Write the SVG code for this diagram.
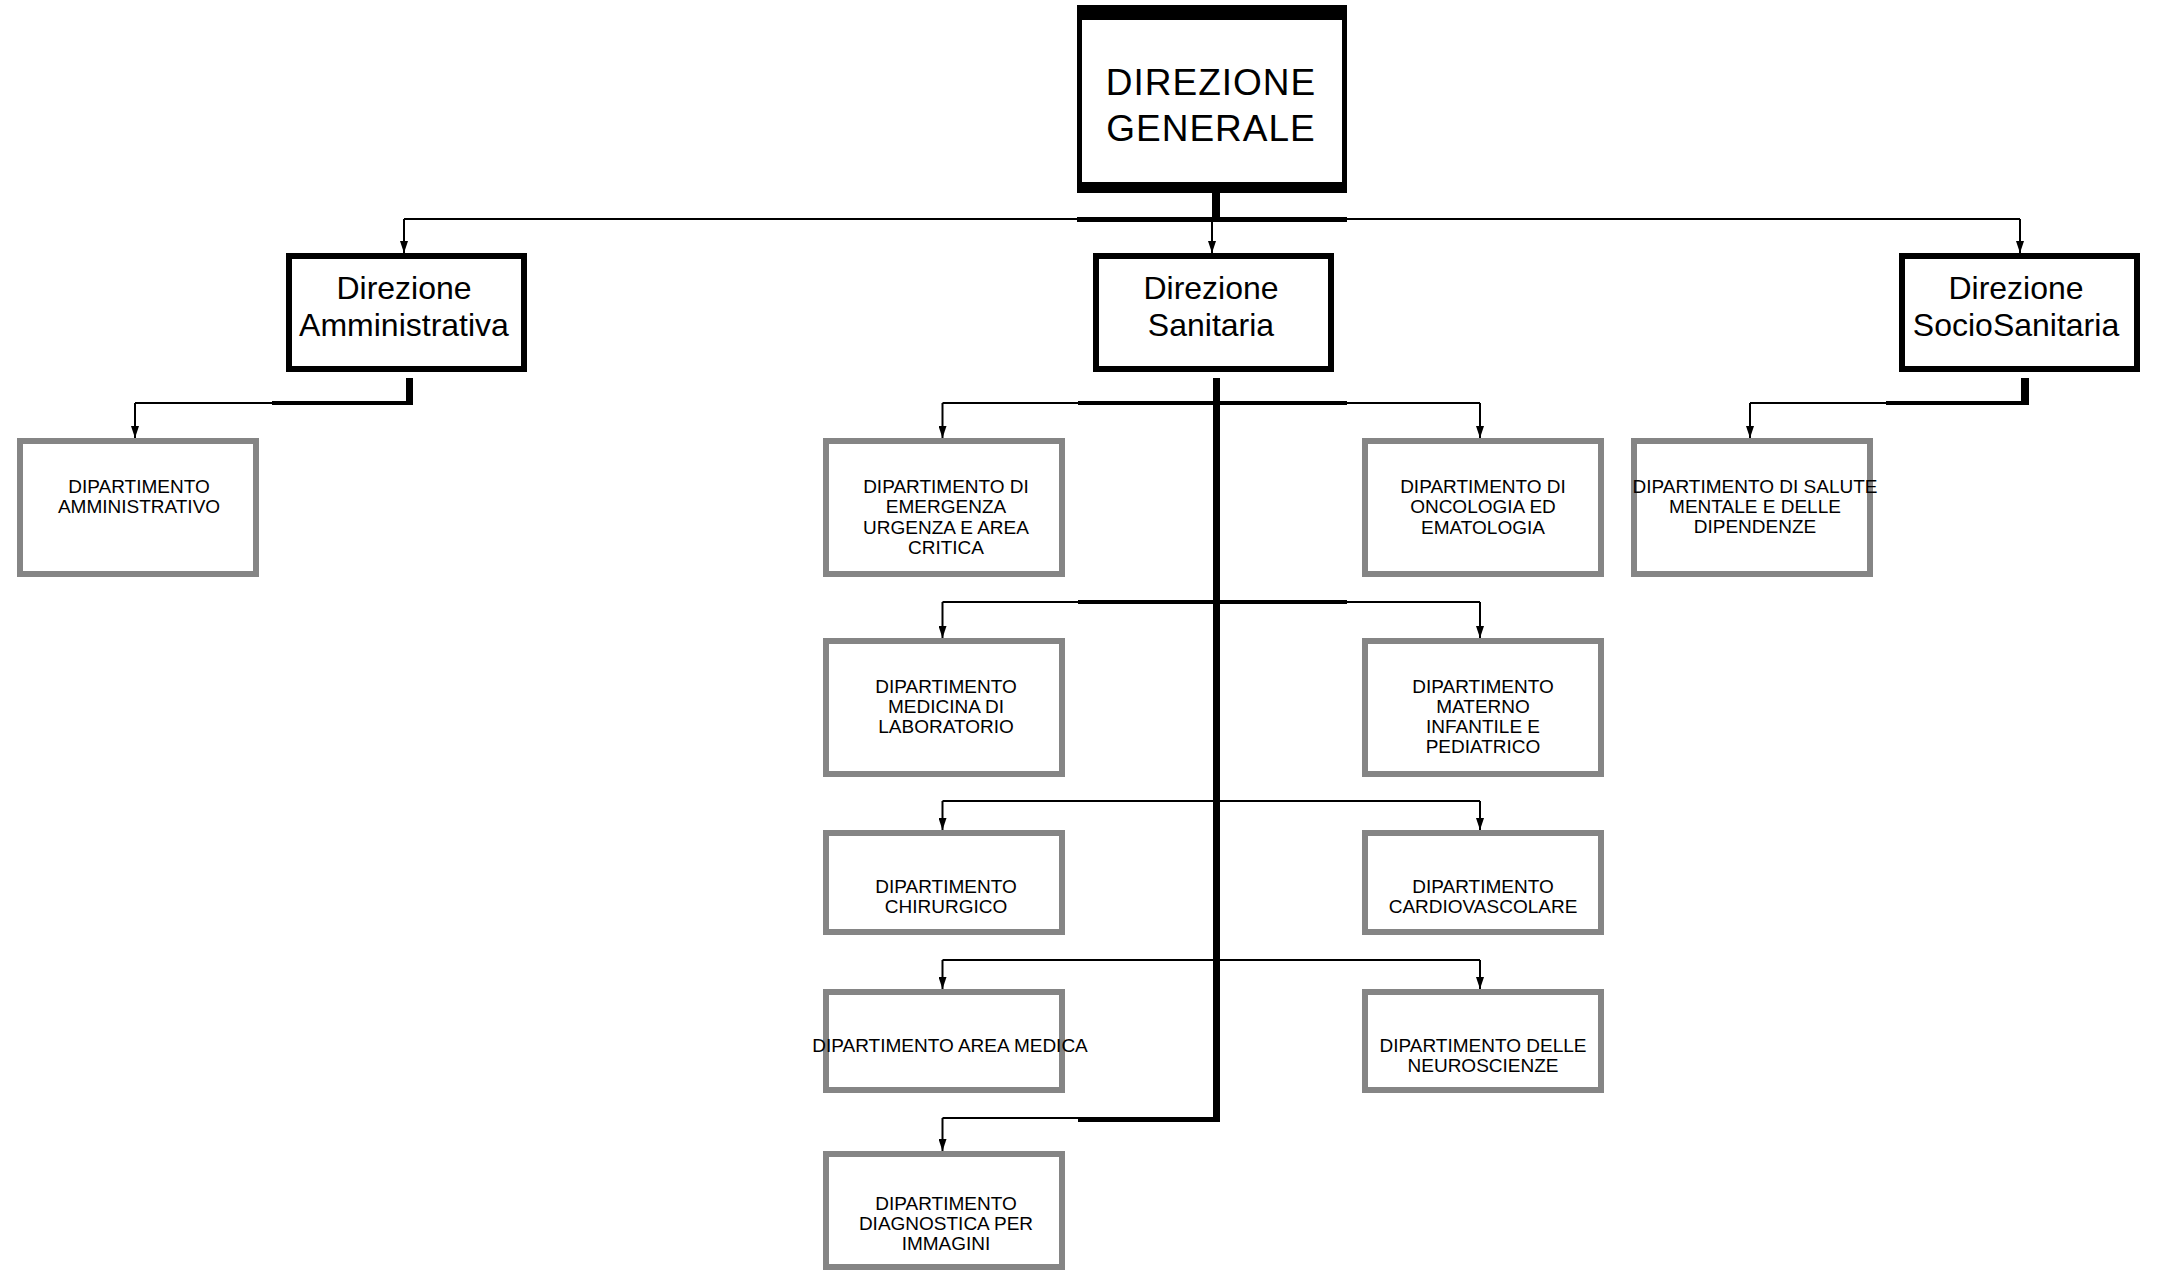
<svg xmlns="http://www.w3.org/2000/svg" width="2157" height="1271" viewBox="0 0 2157 1271">
<defs>
<style>
.l1box{fill:#fff;stroke:#000;stroke-width:5}
.l2box{fill:#fff;stroke:#000;stroke-width:6}
.l3box{fill:#fff;stroke:#858585;stroke-width:6}
.t1{font-family:"Liberation Sans",Arial,sans-serif;font-size:37px;letter-spacing:1px;text-anchor:middle;fill:#000}
.t2{font-family:"Liberation Sans",Arial,sans-serif;font-size:32px;text-anchor:middle;fill:#000}
.t3{font-family:"Liberation Sans",Arial,sans-serif;font-size:19px;text-anchor:middle;fill:#000}
.thin{fill:none;stroke:#000;stroke-width:2}
.arrow{fill:none;stroke:#000;stroke-width:2;marker-end:url(#ah)}
.thick{fill:#000}
</style>
<marker id="ah" viewBox="0 0 12 8" refX="12" refY="4" markerWidth="12" markerHeight="8" markerUnits="userSpaceOnUse" orient="auto"><path d="M0,0 L12,4 L0,8 z" fill="#000"/></marker>
</defs>
<rect width="2157" height="1271" fill="#fff"/>

<g id="connectors">
  <!-- level 1 -->
  <rect class="thick" x="1212" y="193" width="8" height="26"/>
  <path class="thin" d="M404,219 H2020"/>
  <rect class="thick" x="1077" y="217" width="270" height="5"/>
  <path class="arrow" d="M404,219 V253"/>
  <path class="arrow" d="M1212,219 V253"/>
  <path class="arrow" d="M2020,219 V253"/>
  <!-- Amministrativa -->
  <rect class="thick" x="406" y="378" width="7" height="27"/>
  <path class="thin" d="M135,403 H413"/>
  <rect class="thick" x="272" y="401" width="141" height="4"/>
  <path class="arrow" d="M135,403 V438"/>
  <!-- SocioSanitaria -->
  <rect class="thick" x="2021" y="378" width="8" height="27"/>
  <path class="thin" d="M1750,403 H2029"/>
  <rect class="thick" x="1886" y="401" width="143" height="4"/>
  <path class="arrow" d="M1750,403 V438"/>
  <!-- Sanitaria -->
  <rect class="thick" x="1213" y="378" width="7" height="744"/>
  <path class="thin" d="M942.5,403 H1480"/>
  <rect class="thick" x="1078" y="401" width="269" height="4"/>
  <path class="arrow" d="M942.5,403 V438"/>
  <path class="arrow" d="M1480,403 V438"/>
  <path class="thin" d="M942.5,602 H1480"/>
  <rect class="thick" x="1078" y="600" width="269" height="4"/>
  <path class="arrow" d="M942.5,602 V638"/>
  <path class="arrow" d="M1480,602 V638"/>
  <path class="thin" d="M942.5,801 H1480"/>
  <path class="arrow" d="M942.5,801 V830"/>
  <path class="arrow" d="M1480,801 V830"/>
  <path class="thin" d="M942.5,960 H1480"/>
  <path class="arrow" d="M942.5,960 V989"/>
  <path class="arrow" d="M1480,960 V989"/>
  <path class="thin" d="M942.5,1118 H1217"/>
  <rect class="thick" x="1078" y="1117" width="142" height="5"/>
  <path class="arrow" d="M942.5,1118 V1151"/>
</g>

<g id="direzione-generale">
  <rect class="l1box" x="1079.5" y="7.5" width="265" height="183"/>
  <rect class="thick" x="1077" y="5" width="270" height="15"/>
  <rect class="thick" x="1077" y="182" width="270" height="11"/>
  <text class="t1" x="1211" y="95">DIREZIONE</text>
  <text class="t1" x="1211" y="141">GENERALE</text>
</g>

<g id="direzione-amministrativa">
  <rect class="l2box" x="289" y="256" width="235" height="113"/>
  <text class="t2" x="404" y="299">Direzione</text>
  <text class="t2" x="404" y="336">Amministrativa</text>
</g>
<g id="direzione-sanitaria">
  <rect class="l2box" x="1096" y="256" width="235" height="113"/>
  <text class="t2" x="1211" y="299">Direzione</text>
  <text class="t2" x="1211" y="336">Sanitaria</text>
</g>
<g id="direzione-sociosanitaria">
  <rect class="l2box" x="1902" y="256" width="235" height="113"/>
  <text class="t2" x="2016" y="299">Direzione</text>
  <text class="t2" x="2016" y="336">SocioSanitaria</text>
</g>

<g id="dip-amministrativo">
  <rect class="l3box" x="20" y="441" width="236" height="133"/>
  <text class="t3" x="139" y="493">DIPARTIMENTO</text>
  <text class="t3" x="139" y="513">AMMINISTRATIVO</text>
</g>
<g id="dip-emergenza">
  <rect class="l3box" x="826" y="441" width="236" height="133"/>
  <text class="t3" x="946" y="493">DIPARTIMENTO DI</text>
  <text class="t3" x="946" y="513">EMERGENZA</text>
  <text class="t3" x="946" y="534">URGENZA E AREA</text>
  <text class="t3" x="946" y="554">CRITICA</text>
</g>
<g id="dip-oncologia">
  <rect class="l3box" x="1365" y="441" width="236" height="133"/>
  <text class="t3" x="1483" y="493">DIPARTIMENTO DI</text>
  <text class="t3" x="1483" y="513">ONCOLOGIA ED</text>
  <text class="t3" x="1483" y="534">EMATOLOGIA</text>
</g>
<g id="dip-salute-mentale">
  <rect class="l3box" x="1634" y="441" width="236" height="133"/>
  <text class="t3" x="1755" y="493">DIPARTIMENTO DI SALUTE</text>
  <text class="t3" x="1755" y="513">MENTALE E DELLE</text>
  <text class="t3" x="1755" y="533">DIPENDENZE</text>
</g>
<g id="dip-laboratorio">
  <rect class="l3box" x="826" y="641" width="236" height="133"/>
  <text class="t3" x="946" y="693">DIPARTIMENTO</text>
  <text class="t3" x="946" y="713">MEDICINA DI</text>
  <text class="t3" x="946" y="733">LABORATORIO</text>
</g>
<g id="dip-materno-infantile">
  <rect class="l3box" x="1365" y="641" width="236" height="133"/>
  <text class="t3" x="1483" y="693">DIPARTIMENTO</text>
  <text class="t3" x="1483" y="713">MATERNO</text>
  <text class="t3" x="1483" y="733">INFANTILE E</text>
  <text class="t3" x="1483" y="753">PEDIATRICO</text>
</g>
<g id="dip-chirurgico">
  <rect class="l3box" x="826" y="833" width="236" height="99"/>
  <text class="t3" x="946" y="893">DIPARTIMENTO</text>
  <text class="t3" x="946" y="913">CHIRURGICO</text>
</g>
<g id="dip-cardiovascolare">
  <rect class="l3box" x="1365" y="833" width="236" height="99"/>
  <text class="t3" x="1483" y="893">DIPARTIMENTO</text>
  <text class="t3" x="1483" y="913">CARDIOVASCOLARE</text>
</g>
<g id="dip-area-medica">
  <rect class="l3box" x="826" y="992" width="236" height="98"/>
  <text class="t3" x="950" y="1052">DIPARTIMENTO AREA MEDICA</text>
</g>
<g id="dip-neuroscienze">
  <rect class="l3box" x="1365" y="992" width="236" height="98"/>
  <text class="t3" x="1483" y="1052">DIPARTIMENTO DELLE</text>
  <text class="t3" x="1483" y="1072">NEUROSCIENZE</text>
</g>
<g id="dip-diagnostica-immagini">
  <rect class="l3box" x="826" y="1154" width="236" height="113"/>
  <text class="t3" x="946" y="1210">DIPARTIMENTO</text>
  <text class="t3" x="946" y="1230">DIAGNOSTICA PER</text>
  <text class="t3" x="946" y="1250">IMMAGINI</text>
</g>
</svg>
